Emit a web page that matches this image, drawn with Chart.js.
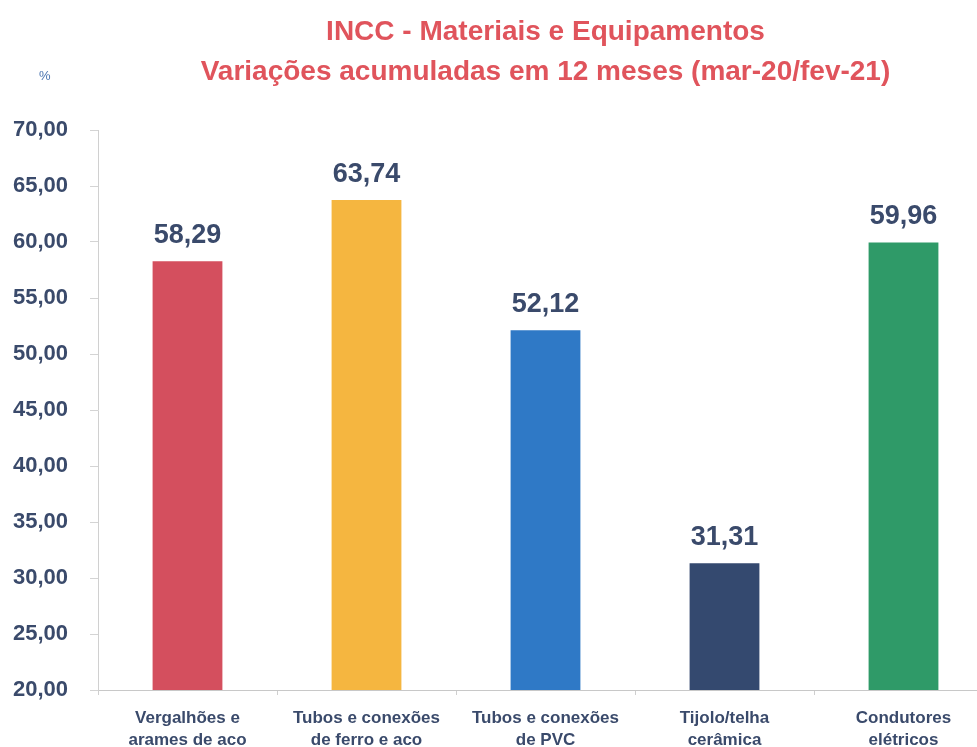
<!DOCTYPE html>
<html>
<head>
<meta charset="utf-8">
<script src="https://cdn.jsdelivr.net/npm/chart.js@4.4.1/dist/chart.umd.min.js"></script>
<style>
  html, body { margin: 0; padding: 0; background: #ffffff; overflow: hidden; }
  #wrap { position: relative; width: 1000px; height: 747px; }
  #pct { position: absolute; left: 39px; top: 68px; font: 13px "Liberation Sans", Arial, sans-serif; color: #4a74b0; }
</style>
</head>
<body>
<div id="wrap">
  <canvas id="chart" width="1000" height="747"></canvas>
  <div id="pct">%</div>
</div>
<script>
// Categories and 12-month accumulated variation (%) of INCC materials
const categories = [
  ["Vergalhões e", "arames de aco"],
  ["Tubos e conexões", "de ferro e aco"],
  ["Tubos e conexões", "de PVC"],
  ["Tijolo/telha", "cerâmica"],
  ["Condutores", "elétricos"]
];
const values = [58.29, 63.74, 52.12, 31.31, 59.96];
const barColors = ["#d44f5e", "#f5b640", "#2f79c6", "#34496f", "#2f9a68"];
const titleLines = ["INCC - Materiais e Equipamentos", "Variações acumuladas em 12 meses (mar-20/fev-21)"];
const yMin = 20, yMax = 70, yStep = 5;

const labelColor = "#3a4a6b";
const fmt = v => v.toFixed(2).replace(".", ",");

// Value labels above each bar
const valueLabels = {
  id: "valueLabels",
  afterDatasetsDraw(chart) {
    const ctx = chart.ctx;
    const meta = chart.getDatasetMeta(0);
    ctx.save();
    ctx.font = "bold 27px 'Liberation Sans', Arial, sans-serif";
    ctx.fillStyle = labelColor;
    ctx.textAlign = "center";
    ctx.textBaseline = "bottom";
    meta.data.forEach((bar, i) => {
      ctx.fillText(fmt(values[i]), bar.x, bar.y - 12);
    });
    ctx.restore();
  }
};

new Chart(document.getElementById("chart"), {
  type: "bar",
  data: {
    labels: categories,
    datasets: [{
      data: values,
      backgroundColor: barColors,
      borderWidth: 0,
      barPercentage: 0.39,
      categoryPercentage: 1
    }]
  },
  options: {
    responsive: false,
    animation: false,
    layout: { padding: { left: 0, right: 7, top: 0, bottom: 0 } },
    plugins: {
      legend: { display: false },
      tooltip: { enabled: false },
      title: {
        display: true,
        fullSize: false,
        text: titleLines,
        color: "#e0545c",
        font: { family: "'Liberation Sans', Arial, sans-serif", size: 28, weight: "bold", lineHeight: 1.4 },
        padding: { top: 13, bottom: 38.6 }
      }
    },
    scales: {
      x: {
        grid: { display: true, drawOnChartArea: false, offset: true, tickLength: 5, color: "#cfcfcf" },
        border: { color: "#c8c8c8", width: 1 },
        ticks: {
          color: labelColor,
          padding: 13,
          maxRotation: 0,
          autoSkip: false,
          font: { family: "'Liberation Sans', Arial, sans-serif", size: 17, weight: "bold", lineHeight: 1.25 }
        },
        afterFit(scale) { scale.height = 57; }
      },
      y: {
        min: yMin,
        max: yMax,
        grid: { display: true, drawOnChartArea: false, tickLength: 8, color: "#d4d4d4" },
        border: { color: "#d0d0d0", width: 1 },
        ticks: {
          stepSize: yStep,
          color: labelColor,
          padding: 22,
          callback: v => fmt(v),
          font: { family: "'Liberation Sans', Arial, sans-serif", size: 22, weight: "bold" }
        },
        afterFit(scale) { scale.width = 98; }
      }
    }
  },
  plugins: [valueLabels]
});
</script>
</body>
</html>
